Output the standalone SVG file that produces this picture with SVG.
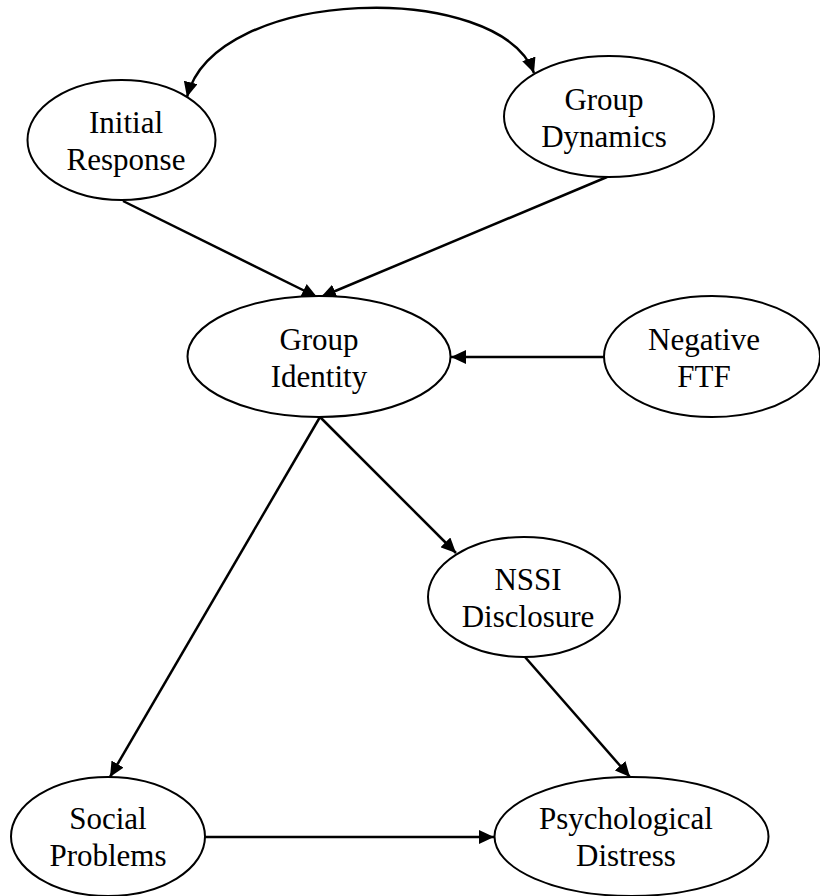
<svg xmlns="http://www.w3.org/2000/svg" width="820" height="896" viewBox="0 0 820 896">
<defs>
<style>
.node ellipse{fill:#fff;stroke:#000;stroke-width:2}
.node text{font-family:"Liberation Serif","Times New Roman",serif;font-size:31px;fill:#000;text-anchor:middle}
.edge{fill:none;stroke:#000;stroke-width:2.5}
</style>
<marker id="ah" markerUnits="userSpaceOnUse" markerWidth="16" markerHeight="14" refX="15" refY="7" orient="auto-start-reverse" viewBox="0 0 16 14">
<path d="M0,0 L15,7 L0,14 z" fill="#000"/>
</marker>
</defs>
<rect width="820" height="896" fill="#fff"/>
<g id="connectors">
<path class="edge" d="M187,97 C215,-15 500,-20 534,73" marker-start="url(#ah)" marker-end="url(#ah)"/>
<line class="edge" x1="123" y1="201" x2="317" y2="297" marker-end="url(#ah)"/>
<line class="edge" x1="607" y1="177" x2="321" y2="297" marker-end="url(#ah)"/>
<line class="edge" x1="604" y1="357" x2="451" y2="357" marker-end="url(#ah)"/>
<line class="edge" x1="320" y1="417" x2="456" y2="553" marker-end="url(#ah)"/>
<line class="edge" x1="320" y1="417" x2="110" y2="777" marker-end="url(#ah)"/>
<line class="edge" x1="525" y1="657" x2="630" y2="777" marker-end="url(#ah)"/>
<line class="edge" x1="205" y1="837" x2="494" y2="837" marker-end="url(#ah)"/>
</g>
<g id="initial-response" class="node">
<ellipse cx="121.5" cy="140" rx="94" ry="60"/>
<text x="126" y="133">Initial</text>
<text x="126" y="170">Response</text>
</g>
<g id="group-dynamics" class="node">
<ellipse cx="609" cy="116.5" rx="105" ry="60.5"/>
<text x="604" y="110">Group</text>
<text x="604" y="147">Dynamics</text>
</g>
<g id="group-identity" class="node">
<ellipse cx="319" cy="356.5" rx="131.5" ry="60.5"/>
<text x="319" y="350">Group</text>
<text x="319" y="387">Identity</text>
</g>
<g id="negative-ftf" class="node">
<ellipse cx="712" cy="356.5" rx="108" ry="60.5"/>
<text x="704" y="350">Negative</text>
<text x="704" y="387">FTF</text>
</g>
<g id="nssi-disclosure" class="node">
<ellipse cx="524" cy="597" rx="96" ry="60"/>
<text x="528" y="590">NSSI</text>
<text x="528" y="627">Disclosure</text>
</g>
<g id="social-problems" class="node">
<ellipse cx="108" cy="836.5" rx="97" ry="59.5"/>
<text x="108" y="829">Social</text>
<text x="108" y="866">Problems</text>
</g>
<g id="psychological-distress" class="node">
<ellipse cx="631.5" cy="836.5" rx="137" ry="59.5"/>
<text x="626" y="829">Psychological</text>
<text x="626" y="866">Distress</text>
</g>
</svg>
